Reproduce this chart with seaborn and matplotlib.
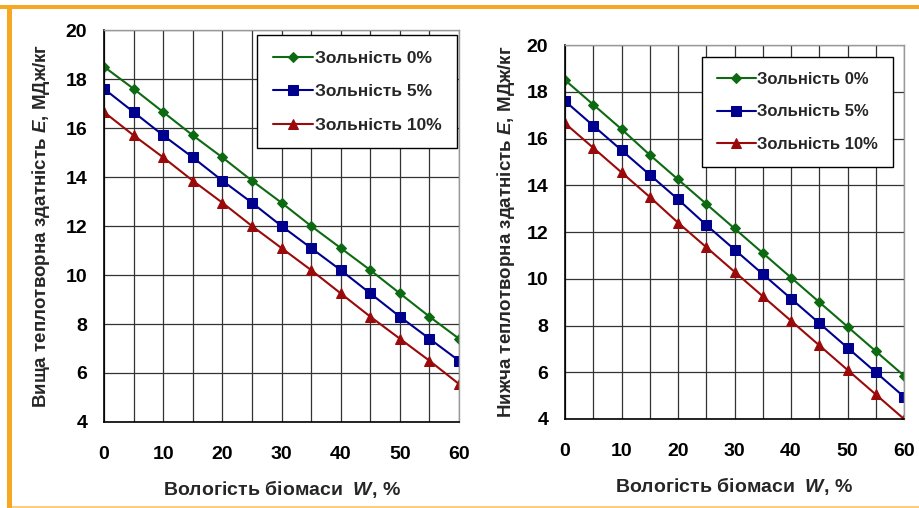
import numpy as np
import pandas as pd
import matplotlib
matplotlib.use('Agg')
import matplotlib.pyplot as plt
import seaborn as sns
from matplotlib.ticker import MultipleLocator, FuncFormatter
from matplotlib.patches import Rectangle

# === DATA ===
moisture = [0, 5, 10, 15, 20, 25, 30, 35, 40, 45, 50, 55, 60]
series_labels = ['Зольність 0%', 'Зольність 5%', 'Зольність 10%']

# higher heating value, MJ/kg
higher_ash0 = [18.5, 17.6, 16.65, 15.7, 14.8, 13.85, 12.95, 12.0, 11.1, 10.2, 9.25, 8.3, 7.4]
higher_ash5 = [17.6, 16.65, 15.7, 14.8, 13.85, 12.95, 12.0, 11.1, 10.2, 9.25, 8.3, 7.4, 6.5]
higher_ash10 = [16.65, 15.7, 14.8, 13.85, 12.95, 12.0, 11.1, 10.2, 9.25, 8.3, 7.4, 6.5, 5.55]

# lower heating value, MJ/kg
lower_ash0 = [18.5, 17.45, 16.4, 15.3, 14.25, 13.2, 12.15, 11.1, 10.05, 9.0, 7.95, 6.9, 5.85]
lower_ash5 = [17.6, 16.55, 15.5, 14.45, 13.4, 12.3, 11.25, 10.2, 9.15, 8.1, 7.05, 6.0, 4.95]
lower_ash10 = [16.65, 15.6, 14.55, 13.5, 12.4, 11.35, 10.3, 9.25, 8.2, 7.15, 6.1, 5.05, 4.0]

colors = ['#0E6A12', '#00008E', '#9A0A0A']
markers = ['D', 's', '^']
marker_sizes = [5, 7, 7.5]

# === STYLE ===
sns.set_style('white')
plt.rcParams['font.family'] = ['Liberation Sans', 'DejaVu Sans']
plt.rcParams['font.weight'] = 'bold'
plt.rcParams['mathtext.fontset'] = 'custom'
plt.rcParams['mathtext.it'] = 'Liberation Sans:italic:bold'
plt.rcParams['mathtext.rm'] = 'Liberation Sans:bold'

fig = plt.figure(figsize=(9.19, 5.08), dpi=100)
ax_l = fig.add_axes([0.1132, 0.1693, 0.3863, 0.7716])
ax_r = fig.add_axes([0.6148, 0.1752, 0.3689, 0.7362])

GRID = '#333333'


def draw_panel(ax, ys, ylabel, leg_anchor, leg_size, ylab_pad):
    for vals, lab, col, mk, ms in zip(ys, series_labels, colors, markers, marker_sizes):
        df = pd.DataFrame({'W': moisture, 'E': vals})
        sns.lineplot(data=df, x='W', y='E', ax=ax, color=col, marker=mk,
                     markersize=ms, markeredgecolor=col, linewidth=1.5, label=lab)
    ax.set_xlim(0, 60)
    ax.set_ylim(4, 20)
    ax.xaxis.set_major_locator(MultipleLocator(5))
    ax.xaxis.set_minor_locator(MultipleLocator(2.5))
    ax.xaxis.set_major_formatter(FuncFormatter(lambda v, p: f'{v:.0f}' if round(v) % 10 == 0 else ''))
    ax.yaxis.set_major_locator(MultipleLocator(2))
    ax.yaxis.set_minor_locator(MultipleLocator(0.5))
    ax.grid(True, which='major', color=GRID, linewidth=0.9)
    ax.tick_params(axis='x', which='major', direction='out', length=6, width=1,
                   pad=11, labelsize=14, colors='black')
    ax.tick_params(axis='x', which='minor', direction='out', length=3, width=1)
    ax.tick_params(axis='y', which='major', direction='out', length=6, width=1,
                   pad=6, labelsize=14, colors='black')
    ax.tick_params(axis='y', which='minor', direction='out', length=3, width=1)
    for t in ax.get_xticklabels() + ax.get_yticklabels():
        t.set_fontweight('bold')
    for s in ['left', 'bottom']:
        ax.spines[s].set_color('black')
        ax.spines[s].set_linewidth(1.2)
    for s in ['top', 'right']:
        ax.spines[s].set_color('#9a9a9a')
        ax.spines[s].set_linewidth(1)
    ax.set_xlabel(r'Вологість біомаси  $\mathit{W}$, %', fontsize=14, fontweight='bold', labelpad=11)
    ax.set_ylabel(ylabel, fontsize=13.5, fontweight='bold', labelpad=ylab_pad)
    leg = ax.legend(loc='upper right', bbox_to_anchor=leg_anchor, fontsize=leg_size,
                    frameon=True, fancybox=False, handlelength=2.3, handletextpad=0.1,
                    labelspacing=1.05, borderpad=0.9, borderaxespad=0)
    leg.get_frame().set_edgecolor('black')
    leg.get_frame().set_linewidth(1)
    leg.get_frame().set_alpha(1)
    for t in leg.get_texts():
        t.set_fontweight('bold')


draw_panel(ax_l, [higher_ash0, higher_ash5, higher_ash10],
           r'Вища теплотворна здатність $\mathit{E}$, МДж/кг', (0.994, 0.987), 12.5, 10)
draw_panel(ax_r, [lower_ash0, lower_ash5, lower_ash10],
           r'Нижча теплотворна здатність $\mathit{E}$, МДж/кг', (0.968, 0.968), 12, 7)

# orange frame around the slide
ORANGE = '#F7A823'
fig.add_artist(Rectangle((0, 1 - 9 / 508), 1, 4 / 508, transform=fig.transFigure,
                         facecolor=ORANGE, edgecolor='none'))
fig.add_artist(Rectangle((7 / 919, 0), 5 / 919, 1 - 9 / 508, transform=fig.transFigure,
                         facecolor=ORANGE, edgecolor='none'))
fig.add_artist(Rectangle((12 / 919, 0), 1 - 12 / 919, 2 / 508, transform=fig.transFigure,
                         facecolor='#F9CF7E', edgecolor='none'))

plt.savefig('out.png', dpi=100)
plt.close()
